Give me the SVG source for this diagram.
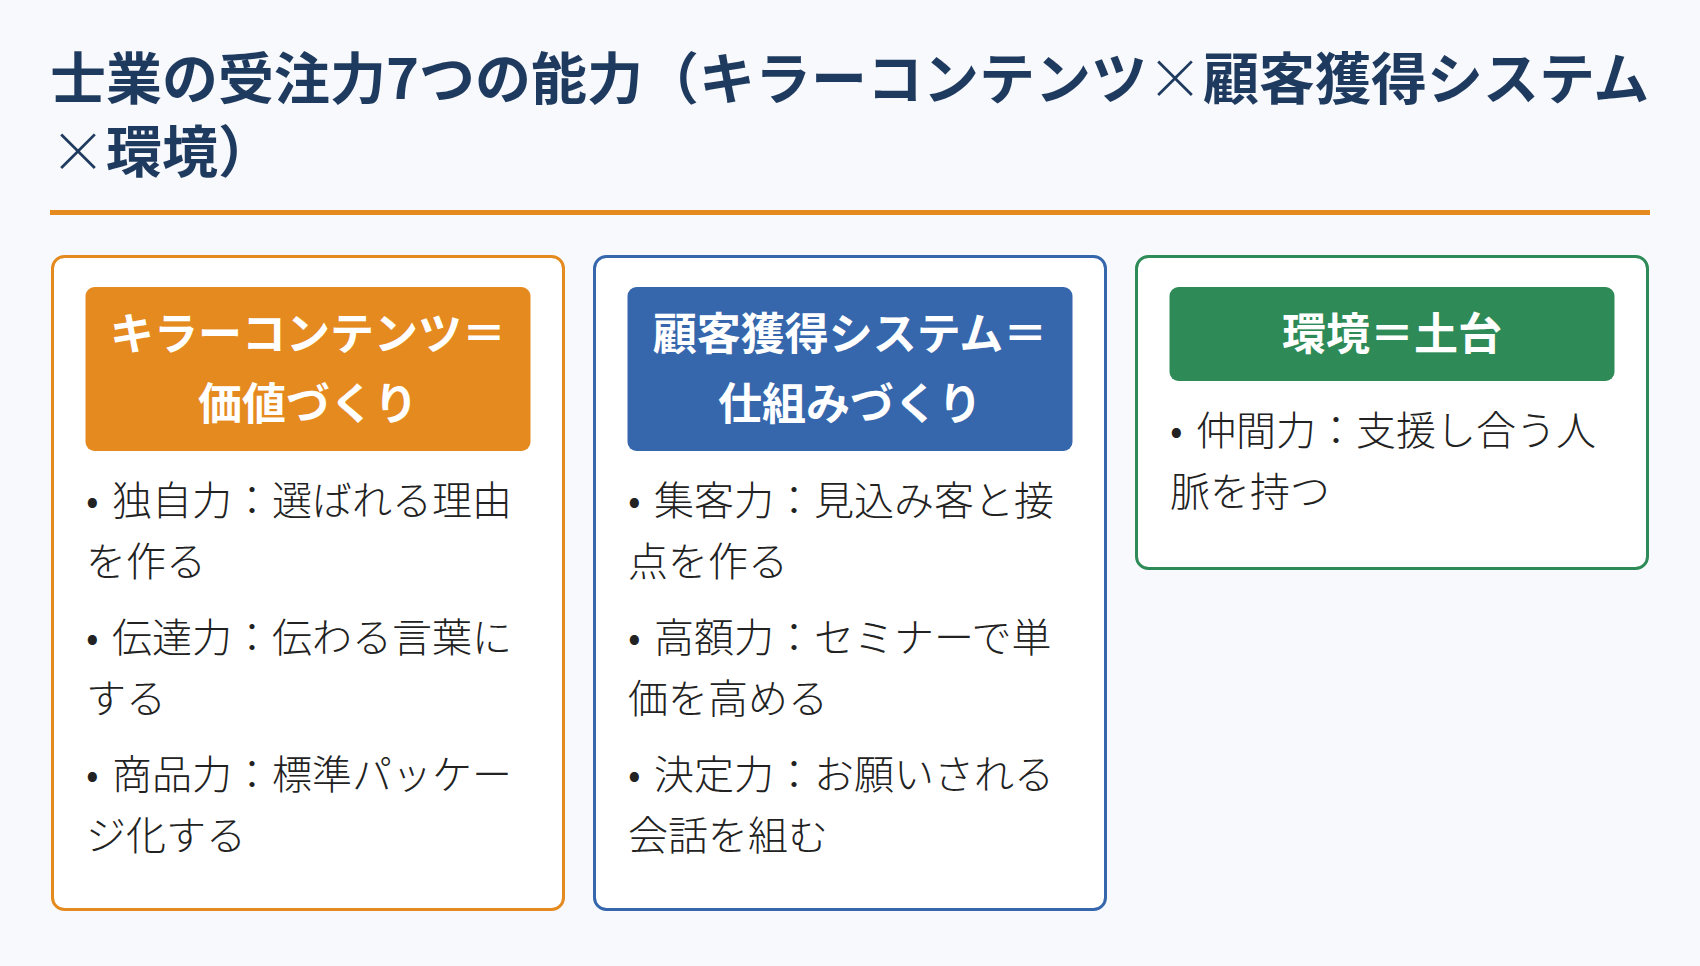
<svg xmlns="http://www.w3.org/2000/svg" width="1700" height="966" viewBox="0 0 1700 966">
<style>
.title{font-family:"Noto Sans CJK JP","Noto Sans CJK SC",sans-serif;font-size:56px;font-weight:700;fill:#1f3a5f}
.x{font-weight:300}
.card{fill:#ffffff;stroke-width:3}
.hd{font-family:"Noto Sans CJK JP","Noto Sans CJK SC",sans-serif;font-size:44px;font-weight:700;fill:#ffffff;text-anchor:middle}
.bd{font-family:"Noto Sans CJK JP","Noto Sans CJK SC",sans-serif;font-size:40px;font-weight:300;fill:#222222}
</style>
<rect x="0" y="0" width="1700" height="966" fill="#f7f9fc"/>
<g id="title">
<text class="title" x="50" y="99">士業の受注力7つの能力（キラーコンテンツ<tspan class="x">×</tspan>顧客獲得システム</text>
<text class="title" x="50" y="172"><tspan class="x">×</tspan>環境）</text>
<rect x="50" y="210" width="1600" height="5" fill="#e58a1f"/>
</g>
<g id="card-killer-content">
<rect class="card" x="52.5" y="256.5" width="511" height="653" rx="12" stroke="#e58a1f"/>
<rect x="85.5" y="287" width="445" height="164" rx="9" fill="#e58a1f"/>
<text class="hd" x="308" y="350">キラーコンテンツ＝</text>
<text class="hd" x="308" y="420">価値づくり</text>
<text class="bd" x="86" y="515">•<tspan x="112">独自力：選ばれる理由</tspan></text>
<text class="bd" x="86" y="576">を作る</text>
<text class="bd" x="86" y="652">•<tspan x="112">伝達力：伝わる言葉に</tspan></text>
<text class="bd" x="86" y="713">する</text>
<text class="bd" x="86" y="789">•<tspan x="112">商品力：標準パッケー</tspan></text>
<text class="bd" x="86" y="850">ジ化する</text>
</g>
<g id="card-customer-system">
<rect class="card" x="594.5" y="256.5" width="511" height="653" rx="12" stroke="#3667ad"/>
<rect x="627.5" y="287" width="445" height="164" rx="9" fill="#3667ad"/>
<text class="hd" x="850" y="350">顧客獲得システム＝</text>
<text class="hd" x="850" y="420">仕組みづくり</text>
<text class="bd" x="628" y="515">•<tspan x="654">集客力：見込み客と接</tspan></text>
<text class="bd" x="628" y="576">点を作る</text>
<text class="bd" x="628" y="652">•<tspan x="654">高額力：セミナーで単</tspan></text>
<text class="bd" x="628" y="713">価を高める</text>
<text class="bd" x="628" y="789">•<tspan x="654">決定力：お願いされる</tspan></text>
<text class="bd" x="628" y="850">会話を組む</text>
</g>
<g id="card-environment">
<rect class="card" x="1136.5" y="256.5" width="511" height="312" rx="12" stroke="#2e8b57"/>
<rect x="1169.5" y="287" width="445" height="94" rx="9" fill="#2e8b57"/>
<text class="hd" x="1392" y="350">環境＝土台</text>
<text class="bd" x="1170" y="445">•<tspan x="1196">仲間力：支援し合う人</tspan></text>
<text class="bd" x="1170" y="506">脈を持つ</text>
</g>
<g id="connectors"></g>
</svg>
